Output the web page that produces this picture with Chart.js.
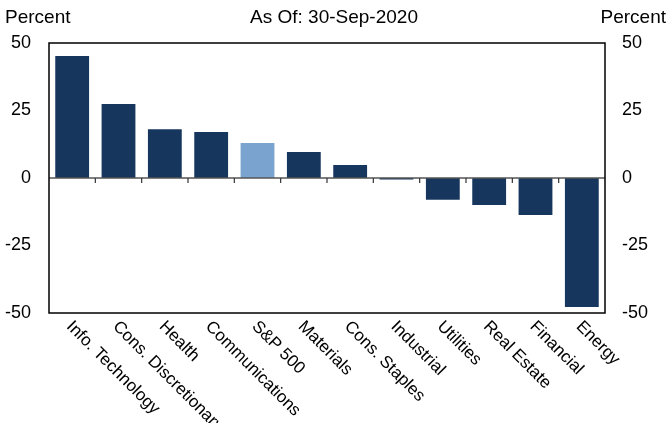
<!DOCTYPE html>
<html>
<head>
<meta charset="utf-8">
<script src="https://cdn.jsdelivr.net/npm/chart.js@4.4.0/dist/chart.umd.min.js"></script>
<style>
html,body{margin:0;padding:0;background:#fff}
#wrap{width:668px;height:423px}
</style>
</head>
<body>
<div id="wrap"><canvas id="sectorChart" width="668" height="423"></canvas></div>
<script>
// sector returns, percent, as of 30-Sep-2020
const sectors = ["Info. Technology","Cons. Discretionary","Health","Communications","S&P 500","Materials","Cons. Staples","Industrial","Utilities","Real Estate","Financial","Energy"];
const returns = [45.2, 27.4, 18.1, 17.0, 13.0, 9.6, 4.8, -0.6, -8.1, -10.0, -13.7, -47.8];
const yTicks = [-50, -25, 0, 25, 50];
const titleText = "As Of: 30-Sep-2020";
const unitLabel = "Percent";

const FONT = "'Liberation Sans', Arial, sans-serif";

const barColors = sectors.map(s => s === "S&P 500" ? "#7BA3D0" : "#17365E");

const decor = {
    id: "decor",
    afterDraw(chart){
        const ctx = chart.ctx;
        const area = chart.chartArea;
        const x = chart.scales.x;
        const y = chart.scales.y;

        ctx.save();

        // zero line + small ticks between categories
        const zeroY = y.getPixelForValue(0);
        ctx.strokeStyle = "#555";
        ctx.lineWidth = 1.5;
        ctx.beginPath();
        ctx.moveTo(area.left, zeroY);
        ctx.lineTo(area.right, zeroY);
        ctx.stroke();

        ctx.strokeStyle = "#333";
        ctx.lineWidth = 1.2;
        for(let i = 0; i < sectors.length - 1; i++){
            const bx = (x.getPixelForValue(i) + x.getPixelForValue(i + 1)) / 2;
            ctx.beginPath();
            ctx.moveTo(bx, zeroY);
            ctx.lineTo(bx, zeroY + 5);
            ctx.stroke();
        }

        // frame
        ctx.strokeStyle = "#000";
        ctx.lineWidth = 1.5;
        ctx.strokeRect(area.left, area.top, area.right - area.left, area.bottom - area.top);

        // header texts
        ctx.fillStyle = "#000";
        ctx.font = "19px " + FONT;
        ctx.textBaseline = "middle";
        ctx.textAlign = "left";
        ctx.fillText(unitLabel, 5, 18);
        ctx.textAlign = "right";
        ctx.fillText(unitLabel, 666, 18);
        ctx.textAlign = "center";
        ctx.fillText(titleText, chart.width / 2, 18);

        // rotated category labels
        ctx.font = "17px " + FONT;
        ctx.textAlign = "left";
        ctx.textBaseline = "top";
        sectors.forEach((name, i) => {
            const cx = x.getPixelForValue(i);
            ctx.save();
            ctx.translate(cx + 3, area.bottom + 5);
            ctx.rotate(Math.PI / 4);
            ctx.fillText(name, 0, 0);
            ctx.restore();
        });

        ctx.restore();
    }
};

new Chart(document.getElementById("sectorChart").getContext("2d"), {
    type: "bar",
    data: {
        labels: sectors,
        datasets: [{
            data: returns,
            backgroundColor: barColors,
            borderWidth: 0,
            barPercentage: 0.73,
            categoryPercentage: 1
        }]
    },
    options: {
        responsive: false,
        animation: false,
        layout: { padding: { top: 43, bottom: 110, left: 0, right: 0 } },
        plugins: {
            legend: { display: false },
            tooltip: { enabled: false }
        },
        scales: {
            x: {
                display: false,
                offset: true
            },
            y: {
                position: "left",
                min: -50,
                max: 50,
                afterBuildTicks(scale){ scale.ticks = yTicks.map(v => ({ value: v })); },
                afterFit(scale){ scale.width = 49; },
                grid: { display: false, drawTicks: false },
                border: { display: false },
                ticks: { color: "#000", padding: 18, font: { family: FONT, size: 18 } }
            },
            y2: {
                position: "right",
                min: -50,
                max: 50,
                afterBuildTicks(scale){ scale.ticks = yTicks.map(v => ({ value: v })); },
                afterFit(scale){ scale.width = 63; },
                grid: { display: false, drawTicks: false },
                border: { display: false },
                ticks: { color: "#000", padding: 17, font: { family: FONT, size: 18 } }
            }
        }
    },
    plugins: [decor]
});
</script>
</body>
</html>
